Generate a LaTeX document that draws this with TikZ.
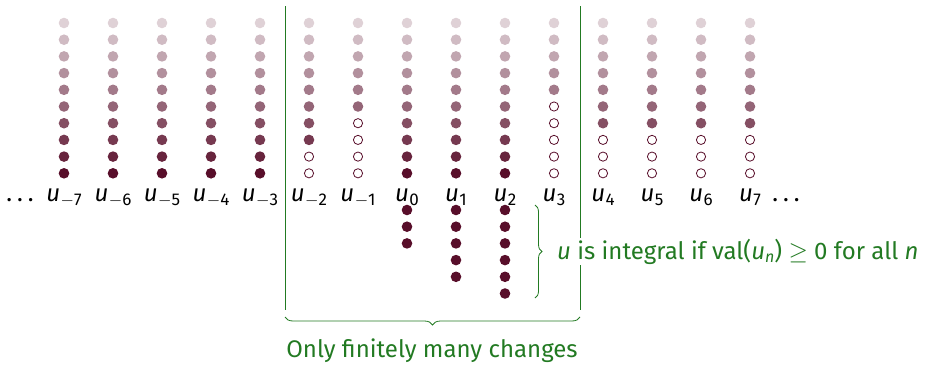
\documentclass[tikz,border=0pt]{standalone}
\usepackage{fontspec}
\setmainfont{Fira Sans}
\usetikzlibrary{decorations.pathreplacing}
\definecolor{dotdark}{RGB}{88,14,42}
\definecolor{notegreen}{RGB}{34,122,34}
% sequence term u_n with a lowered index
\newcommand\uterm[1]{\textit{u}\kern0.5pt\raisebox{-0.35ex}{\fontsize{17}{17}\selectfont #1}}
\newcommand\negidx[1]{$-$#1}
\tikzset{
  termlabel/.style={anchor=base, inner sep=0pt, font=\fontsize{24}{28}\selectfont},
  hollowdot/.style={draw=dotdark, line width=0.8pt, fill=white},
  sepline/.style={draw=notegreen, line width=0.9pt},
  bracestyle/.style={draw=notegreen, line width=0.8pt, decorate},
  notetext/.style={text=notegreen, inner sep=1pt, font=\fontsize{24}{28}\selectfont}
}
\begin{document}
\begin{tikzpicture}[x=1pt,y=-1pt]
\useasboundingbox (0,0) rectangle (926,364);

% separating lines around the region that may change
\coordinate (lt) at (285,6);
\coordinate (lb) at (285,310);
\coordinate (rt) at (580,6);
\coordinate (rb) at (580,310);
\draw[sepline] (lt) -- (lb);
\draw[sepline] (rt) -- (rb);

% columns of digits: x = 407 + 49 n, lowest "\h" digits are zero (hollow)
\foreach \n/\h in {-7/0,-6/0,-5/0,-4/0,-3/0,-2/2,-1/4,0/0,1/0,2/0,3/5,4/3,5/3,6/3,7/3} {
  \pgfmathsetmacro\cx{407+49*\n}
  \foreach \k in {0,...,9} {
    \pgfmathsetmacro\cy{173.3-16.7*\k}
    \pgfmathtruncatemacro\pct{100-9*\k}
    \ifnum\k<\h\relax
      \draw[hollowdot] (\cx pt,-\cy pt) circle (4.6pt);
    \else
      \fill[dotdark!\pct!white] (\cx pt,-\cy pt) circle (5.3pt);
    \fi
  }
  \node[termlabel] (u\n) at (\cx pt,-201.5pt)
    {\uterm{\ifnum\n<0 \negidx{\the\numexpr-\n\relax}\else\n\fi}};
}

% negative valuation digits below u_0, u_1, u_2
\foreach \n/\m in {0/3,1/5,2/6} {
  \pgfmathsetmacro\cx{407+49*\n}
  \foreach \k in {1,...,\m} {
    \pgfmathsetmacro\cy{193.3+16.7*\k}
    \fill[dotdark] (\cx pt,-\cy pt) circle (5.3pt);
  }
}

\node[termlabel] (ldots) at (20,201.5) {.\kern5pt.\kern5pt.};
\node[termlabel] (rdots) at (786,201.5) {.\kern5pt.\kern5pt.};

% brace around the negative part
\coordinate (bt) at (535,205);
\coordinate (bb) at (535,298);
\draw[bracestyle, decoration={brace, amplitude=7pt}] (bt) -- (bb);
\node[notetext, fill=white, anchor=base west] (integral) at (556,259)
  {\textit{u} is integral if val(\textit{u}\raisebox{-0.3ex}{\fontsize{16}{16}\selectfont\textit{n}}) $\geq$ 0 for all \textit{n}};

% brace under the changing region
\coordinate (ul) at (285,317);
\coordinate (ur) at (580,317);
\draw[bracestyle, decoration={brace, mirror, amplitude=8pt}] (ul) -- (ur);
\node[notetext, anchor=base] (finite) at (432,357) {Only finitely many changes};
\end{tikzpicture}
\end{document}
